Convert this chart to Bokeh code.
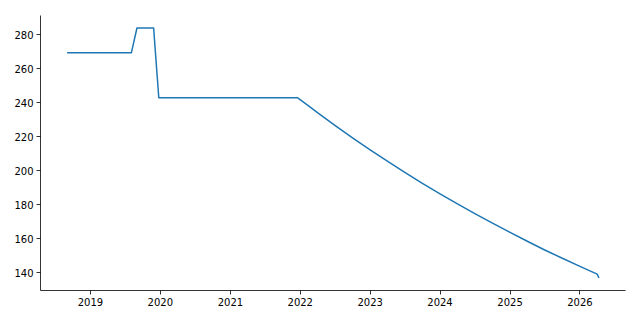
import pandas as pd
from bokeh.plotting import figure
from bokeh.models import Range1d, FixedTicker, DatetimeTickFormatter
from bokeh.embed import file_html
from bokeh.resources import INLINE

dates = [
    "2018-09-01", "2019-08-03", "2019-09-01", "2019-11-27", "2019-12-24",
    "2021-12-17", "2022-02-01", "2022-04-01", "2022-07-01", "2022-10-01",
    "2023-01-01", "2023-04-01", "2023-07-01", "2023-10-01", "2024-01-01",
    "2024-04-01", "2024-07-01", "2024-10-01", "2025-01-01", "2025-04-01",
    "2025-07-01", "2025-10-01", "2026-01-01", "2026-04-01", "2026-04-10",
]
values = [
    269.4, 269.4, 283.9, 283.9, 242.9,
    242.9, 239.1, 234.1, 226.6, 219.3,
    212.2, 205.5, 199.0, 192.5, 186.3,
    180.4, 174.7, 169.1, 163.6, 158.4,
    153.3, 148.4, 143.6, 139.1, 136.8,
]
year_ticks = ["2019", "2020", "2021", "2022", "2023", "2024", "2025", "2026"]
y_ticks = [140, 160, 180, 200, 220, 240, 260, 280]

x = pd.to_datetime(dates)
x_ms = [t.value / 1e6 for t in x]
xpad = 0.05 * (max(x_ms) - min(x_ms))
ypad = 0.05 * (max(values) - min(values))

p = figure(
    width=640, height=320, x_axis_type="datetime",
    output_backend="svg", toolbar_location=None,
    x_range=Range1d(min(x_ms) - xpad, max(x_ms) + xpad),
    y_range=Range1d(min(values) - ypad, max(values) + ypad),
    min_border_left=40, min_border_right=15, min_border_top=15, min_border_bottom=30,
)
p.line(x_ms, values, line_color="#1f77b4", line_width=1.5, line_join="round")

p.xgrid.visible = False
p.ygrid.visible = False
p.outline_line_color = None
p.background_fill_color = "white"
p.border_fill_color = "white"

p.xaxis.ticker = FixedTicker(ticks=[pd.Timestamp(y + "-01-01").value / 1e6 for y in year_ticks])
p.xaxis.formatter = DatetimeTickFormatter(
    years="%Y", months="%Y", days="%Y", hours="%Y", minutes="%Y",
    seconds="%Y", milliseconds="%Y", microseconds="%Y",
)
p.yaxis.ticker = FixedTicker(ticks=y_ticks)

for ax in (p.xaxis, p.yaxis):
    ax.axis_line_width = 0.8
    ax.axis_line_color = "black"
    ax.major_tick_line_color = "black"
    ax.major_tick_line_width = 0.8
    ax.major_tick_out = 4
    ax.major_tick_in = 0
    ax.minor_tick_line_color = None
    ax.major_label_text_font = "DejaVu Sans"
    ax.major_label_text_font_size = "10px"
    ax.major_label_text_color = "black"
    ax.major_label_standoff = 3

open("out.html", "w").write(file_html(p, INLINE))
